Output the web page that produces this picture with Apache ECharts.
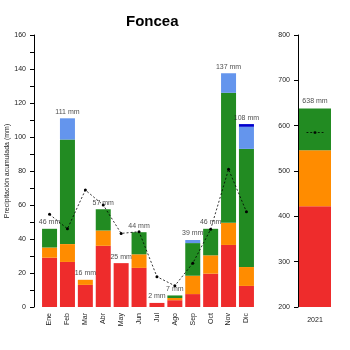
<!DOCTYPE html>
<html>
<head>
<meta charset="utf-8">
<script src="https://cdn.jsdelivr.net/npm/echarts@6/dist/echarts.min.js"></script>
<style>html,body{margin:0;padding:0;background:#fff}#c{width:350px;height:350px}</style>
</head>
<body>
<div id="c"></div>
<script>
var months = ['Ene','Feb','Mar','Abr','May','Jun','Jul','Ago','Sep','Oct','Nov','Dic'];
var red = [29, 26.5, 13, 36, 25.8, 23, 2.4, 4, 7.6, 19.6, 36.5, 12.4];
var orange = [6, 10.5, 3, 9, 0, 8, 0, 1.3, 10.8, 10.8, 13, 11.1];
var green = [11, 61.5, 0, 12.5, 0, 13, 0, 1.5, 19.2, 15.6, 76.5, 69.5];
var lightblue = [0, 12.5, 0, 0, 0, 0, 0, 0, 1.8, 0, 11.5, 13];
var darkblue = [0, 0, 0, 0, 0, 0, 0, 0, 0, 0, 0, 1.6];
var monthLabels = ['46 mm','111 mm','16 mm','57 mm','25 mm','44 mm','2 mm','7 mm','39 mm','46 mm','137 mm','108 mm'];
var normal = [54.5, 46, 68.8, 60, 43.3, 44.3, 17.8, 12.5, 25.7, 45.7, 81, 56];

var yearCat = ['2021'];
var yearRed = [422];
var yearOrange = [124];
var yearGreen = [92];
var yearLabel = ['638 mm'];
var yearNormal = [585];

var leftTicks = [0, 20, 40, 60, 80, 100, 120, 140, 160];
var rightTicks = [200, 300, 400, 500, 600, 700, 800];

var C = {red:'#EE2C2C', orange:'#FF8C00', green:'#228B22', lb:'#6495ED', db:'#0000CD'};
var FONT = 'Liberation Sans';

var totals = months.map(function(m,i){return red[i]+orange[i]+green[i]+lightblue[i]+darkblue[i];});
var yearTotal = [yearRed[0]+yearOrange[0]+yearGreen[0]];

function bar(name, data, color, xi, yi, stack, w){
  return {name:name, type:'bar', stack:stack, xAxisIndex:xi, yAxisIndex:yi, data:data, barWidth:w,
    itemStyle:{color:color}, emphasis:{disabled:true}, animation:false};
}

var chart = echarts.init(document.getElementById('c'), null, {renderer:'canvas'});
chart.setOption({
  animation:false,
  textStyle:{fontFamily:FONT},
  title:{text:'Foncea', left:121, top:9, textStyle:{fontFamily:FONT, fontSize:15, fontWeight:'bold', color:'#000'}},
  grid:[
    {left:40.6, top:35, width:214.8, height:272, outerBoundsMode:'none', containLabel:false},
    {left:298, top:35, width:34, height:272, outerBoundsMode:'none', containLabel:false}
  ],
  xAxis:[
    {type:'category', gridIndex:0, data:months, axisLine:{show:false}, axisTick:{show:false},
     axisLabel:{rotate:90, fontSize:7, color:'#222', margin:6, interval:0, fontFamily:FONT}},
    {type:'category', gridIndex:1, data:yearCat, axisLine:{show:false}, axisTick:{show:false},
     axisLabel:{fontSize:7, color:'#222', margin:10, fontFamily:FONT}}
  ],
  yAxis:[
    {type:'value', gridIndex:0, min:0, max:160, interval:10, offset:6.6,
     name:'Precipitación acumulada (mm)', nameLocation:'middle', nameGap:23, nameMoveOverlap:false,
     nameTextStyle:{fontSize:7, color:'#222', fontFamily:FONT},
     axisLine:{show:true, lineStyle:{color:'#000', width:1}},
     axisTick:{show:true, length:4, lineStyle:{color:'#000'}},
     axisLabel:{fontSize:7, color:'#222', margin:8, fontFamily:FONT,
       formatter:function(v){return leftTicks.indexOf(v)>=0 ? String(v) : '';}},
     splitLine:{show:false}},
    {type:'value', gridIndex:1, min:200, max:800, interval:100,
     axisLine:{show:true, lineStyle:{color:'#000', width:1}},
     axisTick:{show:true, length:4, lineStyle:{color:'#000'}},
     axisLabel:{fontSize:7, color:'#222', margin:8, fontFamily:FONT,
       formatter:function(v){return rightTicks.indexOf(v)>=0 ? String(v) : '';}},
     splitLine:{show:false}}
  ],
  series:[
    bar('red', red, C.red, 0, 0, 'm', 15),
    bar('orange', orange, C.orange, 0, 0, 'm', 15),
    bar('green', green, C.green, 0, 0, 'm', 15),
    bar('lb', lightblue, C.lb, 0, 0, 'm', 15),
    bar('db', darkblue, C.db, 0, 0, 'm', 15),
    {type:'line', xAxisIndex:0, yAxisIndex:0, data:normal, z:5,
     lineStyle:{color:'#000', width:0.8, type:[2,2]}, symbol:'circle', symbolSize:3,
     itemStyle:{color:'#000'}, emphasis:{disabled:true}},
    {type:'scatter', xAxisIndex:0, yAxisIndex:0, data:totals, symbolSize:0, z:6,
     label:{show:true, position:'top', distance:3, fontSize:7, color:'#222', fontFamily:FONT,
       formatter:function(p){return monthLabels[p.dataIndex];}}},
    bar('yred', yearRed, C.red, 1, 1, 'y', 32),
    bar('yorange', yearOrange, C.orange, 1, 1, 'y', 32),
    bar('ygreen', yearGreen, C.green, 1, 1, 'y', 32),
    {type:'scatter', xAxisIndex:1, yAxisIndex:1, data:yearTotal, symbolSize:0, z:6,
     label:{show:true, position:'top', distance:4, fontSize:7, color:'#222', fontFamily:FONT,
       formatter:function(p){return yearLabel[p.dataIndex];}}},
    {type:'scatter', xAxisIndex:1, yAxisIndex:1, data:yearNormal, z:6,
     symbol:'path://M0,0h2v1h-2zM4,0h2v1h-2zM8,0h2v1h-2zM12,0h2v1h-2zM16,0h2v1h-2z',
     symbolSize:[17,1], itemStyle:{color:'#000'}},
    {type:'scatter', xAxisIndex:1, yAxisIndex:1, data:yearNormal, z:7,
     symbol:'circle', symbolSize:3, itemStyle:{color:'#000'}}
  ]
});
</script>
</body>
</html>
